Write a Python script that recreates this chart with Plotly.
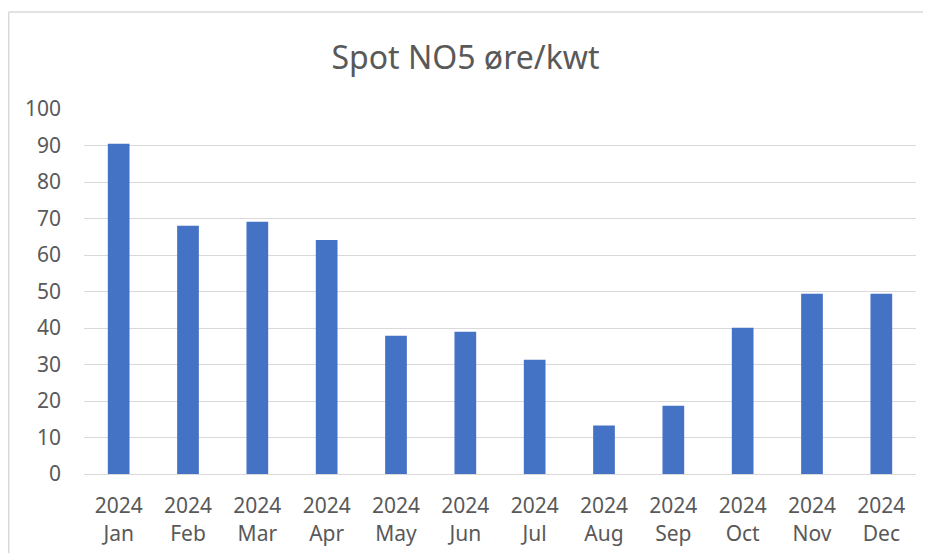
import plotly.graph_objects as go

months = ["Jan", "Feb", "Mar", "Apr", "May", "Jun", "Jul", "Aug", "Sep", "Oct", "Nov", "Dec"]
year = "2024"
values = [90.5, 68.0, 69.1, 64.1, 37.9, 39.0, 31.3, 13.3, 18.7, 40.1, 49.4, 49.4]
yticks = [0, 10, 20, 30, 40, 50, 60, 70, 80, 90, 100]

labels = [f"{year}<br>{m}" for m in months]
FONT = "Noto Sans, sans-serif"

fig = go.Figure(go.Bar(x=labels, y=values, marker=dict(color="#4472C4", line=dict(width=0)),
                       hoverinfo="x+y"))

fig.update_layout(
    width=915, height=545,
    margin=dict(l=76, r=7, t=101, b=79),
    paper_bgcolor="white", plot_bgcolor="white",
    bargap=0.687,
    showlegend=False,
    title=dict(text="Spot NO5 øre/kwt", x=0.5, xanchor="center", y=0.9086, yanchor="middle",
               font=dict(family=FONT, size=32, color="#595959")),
    font=dict(family=FONT, color="#595959"),
)
fig.update_xaxes(showgrid=False, showline=True, linecolor="#D9D9D9", linewidth=1.3,
                 tickfont=dict(size=21, color="#595959"), ticks="", ticklabelstandoff=13,
                 fixedrange=True, automargin=False)
fig.update_yaxes(range=[0, 100], tickvals=yticks, showgrid=True, gridcolor="#D9D9D9", gridwidth=1.3,
                 zeroline=False, showline=False, tickfont=dict(size=21, color="#595959"),
                 ticks="", ticklabelstandoff=22, fixedrange=True, automargin=False)

border = dict(color="#D9D9D9", width=1.5)
fig.add_shape(type="line", xref="paper", yref="paper", x0=-0.0905, y0=-1, x1=-0.0905, y1=1.266,
              line=border, layer="below")
fig.add_shape(type="line", xref="paper", yref="paper", x0=-0.0905, y0=1.266, x1=1.5, y1=1.266,
              line=border, layer="below")

fig.write_html("out.html")
